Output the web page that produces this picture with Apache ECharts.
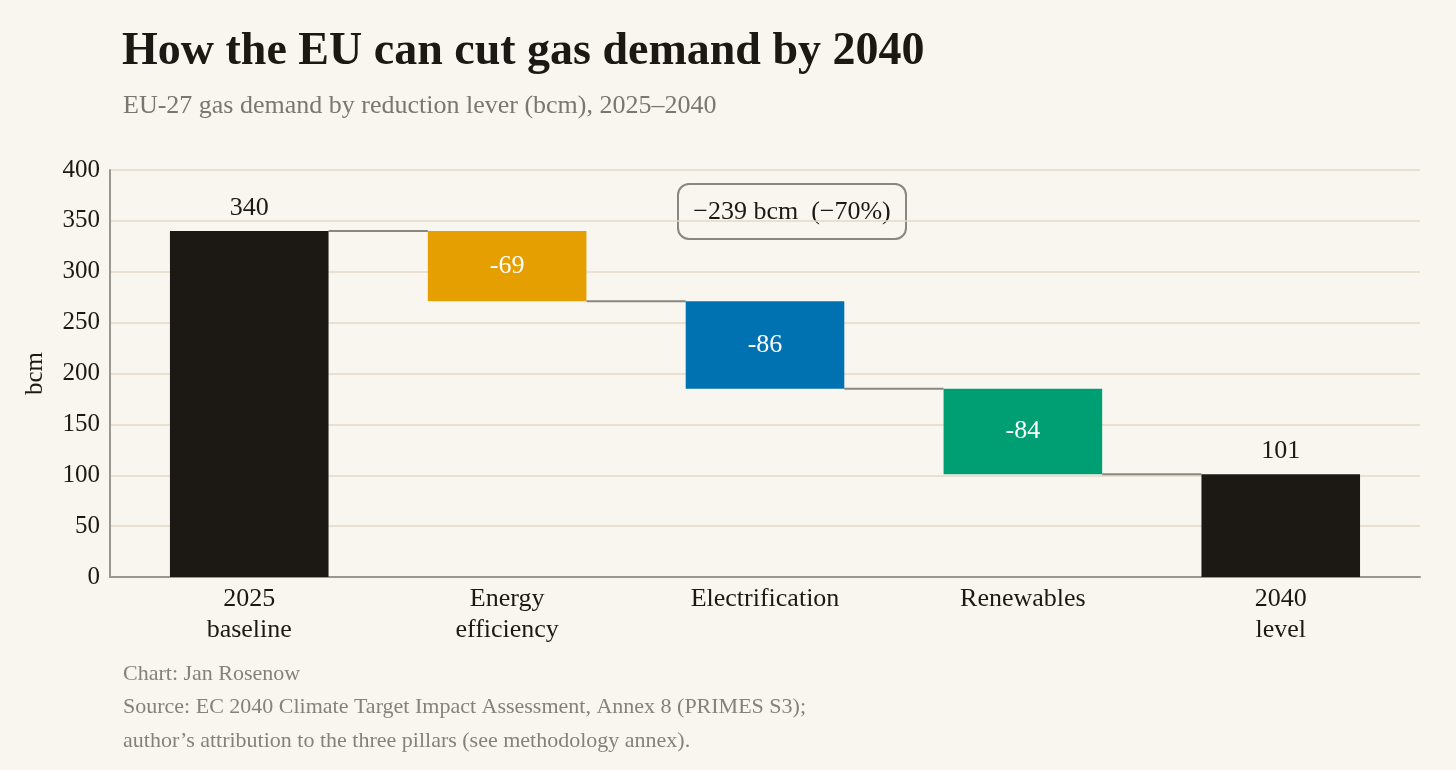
<!DOCTYPE html>
<html>
<head>
<meta charset="utf-8">
<script src="https://cdn.jsdelivr.net/npm/echarts@6/dist/echarts.min.js"></script>
<style>
  html, body { margin: 0; padding: 0; background: #f9f6f0; }
  #chart { width: 1456px; height: 770px; }
</style>
</head>
<body>
<div id="chart"></div>
<script>
var categories = ['2025\nbaseline', 'Energy\nefficiency', 'Electrification', 'Renewables', '2040\nlevel'];
var changes = [340, -69, -86, -84, 101];
var barColors = ['#1c1915', '#e69f00', '#0072b2', '#009e73', '#1c1915'];
var yTicks = [0, 50, 100, 150, 200, 250, 300, 350, 400];
var summaryText = '\u2212239 bcm  (\u221270%)';

var FONT = '"Liberation Serif", "DejaVu Serif", serif';
var BAR_W = 0.615;

// waterfall rows: [index, low, high, change]
var bars = [], levels = [];
var running = 0;
for (var i = 0; i < changes.length; i++) {
  var v = changes[i];
  if (i === 0 || i === changes.length - 1) {
    bars.push([i, 0, v, v]);
    running = v;
  } else {
    bars.push([i, running + v, running, v]);
    running = running + v;
  }
  if (i < changes.length - 1) levels.push([i, running]);
}

var chart = echarts.init(document.getElementById('chart'));

var option = {
  backgroundColor: '#f9f6f0',
  animation: false,
  textStyle: { fontFamily: FONT },
  title: [
    {
      text: 'How the EU can cut gas demand by 2040',
      left: 122, top: 29, padding: 0,
      textStyle: { fontFamily: FONT, fontSize: 46, fontWeight: 'bold', color: '#1c1915' }
    },
    {
      text: 'EU-27 gas demand by reduction lever (bcm), 2025\u20132040',
      left: 123, top: 93, padding: 0,
      textStyle: { fontFamily: FONT, fontSize: 26, fontWeight: 'normal', color: '#7a7672' }
    },
    {
      text: 'Chart: Jan Rosenow',
      left: 123, top: 663, padding: 0,
      textStyle: { fontFamily: FONT, fontSize: 22, fontWeight: 'normal', color: '#85817c' }
    },
    {
      text: 'Source: EC 2040 Climate Target Impact Assessment, Annex 8 (PRIMES S3);\nauthor\u2019s attribution to the three pillars (see methodology annex).',
      left: 123, top: 690, padding: 0,
      textStyle: { fontFamily: FONT, fontSize: 22, fontWeight: 'normal', color: '#85817c', lineHeight: 34 }
    }
  ],
  grid: { left: 110, right: 36, top: 170, bottom: 193 },
  xAxis: {
    type: 'value',
    min: -0.54,
    max: 4.54,
    splitLine: { show: false },
    axisLine: { lineStyle: { color: '#9a9690', width: 2 } },
    axisTick: { show: false },
    axisLabel: {
      customValues: [0, 1, 2, 3, 4],
      formatter: function (val) { return categories[Math.round(val)]; },
      fontFamily: FONT, fontSize: 26, color: '#1c1915', lineHeight: 31, margin: 7
    }
  },
  yAxis: {
    type: 'value',
    min: yTicks[0],
    max: yTicks[yTicks.length - 1],
    interval: 50,
    name: 'bcm',
    nameLocation: 'middle',
    nameGap: 62,
    nameRotate: 90,
    nameTextStyle: { fontFamily: FONT, fontSize: 25, color: '#1c1915' },
    axisLine: { show: true, onZero: false, lineStyle: { color: '#9a9690', width: 2 } },
    axisTick: { show: false },
    axisLabel: { fontFamily: FONT, fontSize: 25, color: '#1c1915', margin: 10 },
    splitLine: { lineStyle: { color: '#e3d9c9', width: 1.5 } }
  },
  series: [
    {
      name: 'connectors',
      type: 'custom',
      z: 1,
      data: levels,
      renderItem: function (params, api) {
        var idx = api.value(0);
        var lvl = api.value(1);
        var p1 = api.coord([idx + BAR_W / 2, lvl]);
        var p2 = api.coord([idx + 1 - BAR_W / 2, lvl]);
        return {
          type: 'line',
          shape: { x1: p1[0], y1: p1[1], x2: p2[0], y2: p2[1] },
          style: { stroke: '#8a8680', lineWidth: 2 }
        };
      }
    },
    {
      name: 'bars',
      type: 'custom',
      z: 2,
      data: bars,
      renderItem: function (params, api) {
        var idx = api.value(0);
        var lo = api.value(1);
        var hi = api.value(2);
        var chg = api.value(3);
        var tl = api.coord([idx - BAR_W / 2, hi]);
        var br = api.coord([idx + BAR_W / 2, lo]);
        var ends = (params.dataIndex === 0 || params.dataIndex === bars.length - 1);
        var cx = (tl[0] + br[0]) / 2;
        return {
          type: 'group',
          children: [
            {
              type: 'rect',
              shape: { x: tl[0], y: tl[1], width: br[0] - tl[0], height: br[1] - tl[1] },
              style: { fill: barColors[params.dataIndex] }
            },
            {
              type: 'text',
              x: cx,
              y: ends ? tl[1] - 10 : (tl[1] + br[1]) / 2,
              style: {
                text: String(chg),
                fontFamily: FONT, fontSize: 26,
                fill: ends ? '#1c1915' : '#ffffff',
                align: 'center',
                verticalAlign: ends ? 'bottom' : 'middle'
              }
            }
          ]
        };
      }
    }
  ],
  graphic: [
    {
      type: 'group',
      left: 677, top: 183,
      children: [
        {
          type: 'rect',
          shape: { x: 0, y: 0, width: 228, height: 55, r: 11 },
          style: { fill: '#f9f6f0', stroke: '#8a8680', lineWidth: 2 }
        },
        {
          type: 'text',
          x: 114, y: 28,
          style: {
            text: summaryText,
            fontFamily: FONT, fontSize: 26, fill: '#1c1915',
            align: 'center', verticalAlign: 'middle'
          }
        }
      ]
    }
  ]
};

chart.setOption(option);
</script>
</body>
</html>
